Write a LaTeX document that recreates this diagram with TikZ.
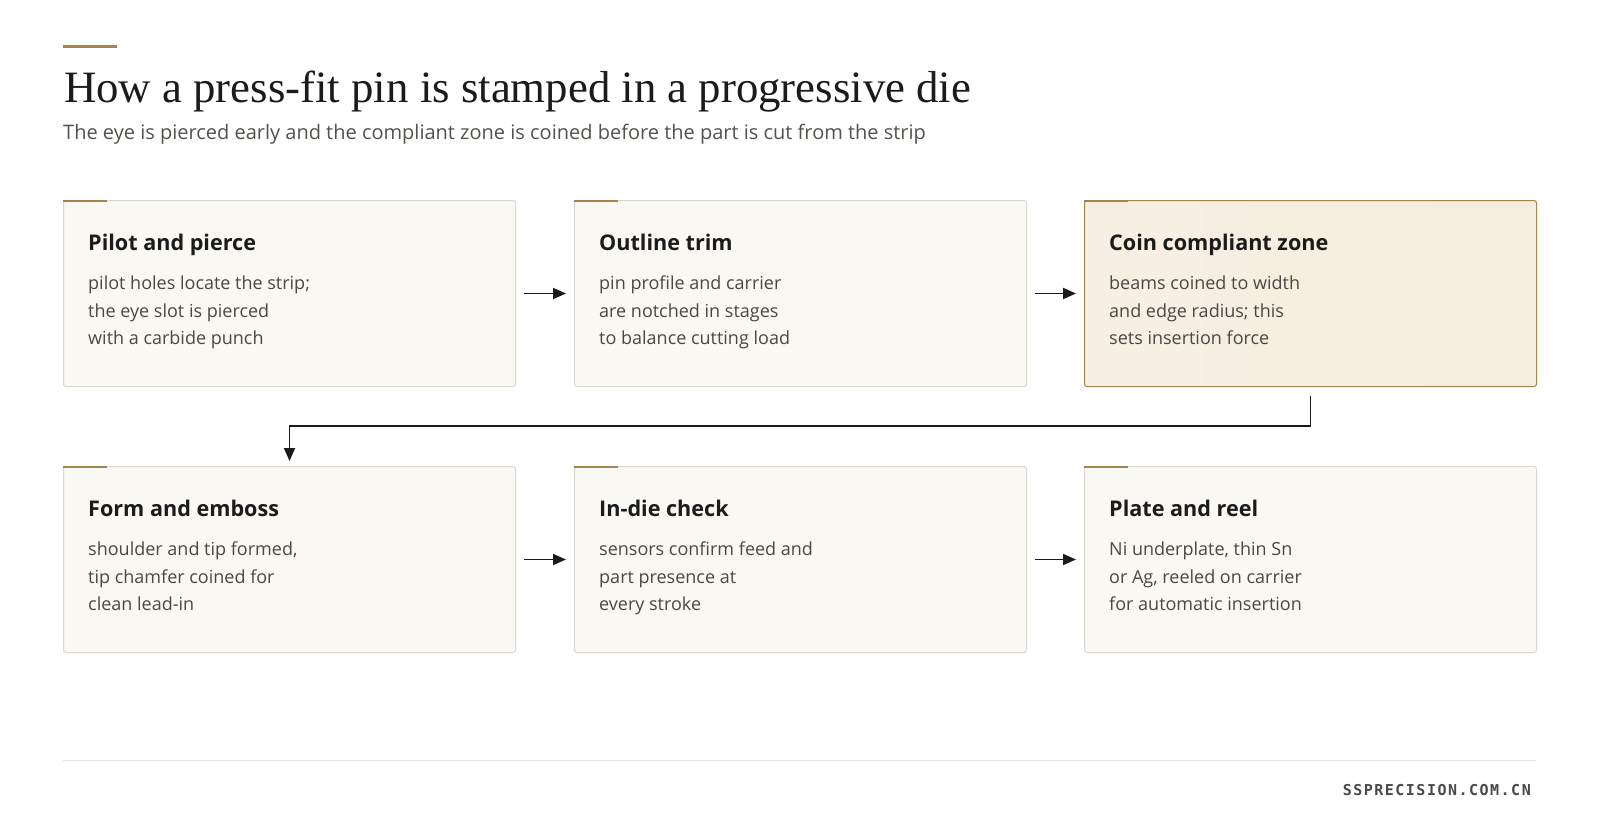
\documentclass[tikz,border=0pt]{standalone}
\usepackage{fontspec}
\setmainfont{Open Sans}
\newfontfamily\headfont{Liberation Serif}
\newfontfamily\sitefont[LetterSpace=10]{DejaVu Sans Mono}
\usetikzlibrary{calc,arrows.meta}

\definecolor{ink}{HTML}{1B1B1B}
\definecolor{bodytext}{HTML}{4A4845}
\definecolor{subtext}{HTML}{55524E}
\definecolor{accent}{HTML}{A4844F}
\definecolor{cardfill}{HTML}{FAF8F3}
\definecolor{cardline}{HTML}{DAD7D0}
\definecolor{hifill}{HTML}{F4EEDE}
\definecolor{rulecol}{HTML}{E6E4E0}

\tikzset{
  card/.style={draw=cardline, fill=cardfill, line width=1pt, rounded corners=2.5pt,
    minimum width=452pt, minimum height=186pt, anchor=north west, inner sep=0pt},
  hicard/.style={card, draw=accent, left color=hifill!88!white, right color=hifill},
  cardtitle/.style={anchor=base west, inner sep=0pt, text=ink,
    font=\bfseries\fontsize{21.6}{26}\selectfont},
  cardbody/.style={anchor=north west, inner sep=0pt, align=left, text=bodytext,
    font=\fontsize{18}{27.5}\selectfont},
  flow/.style={-{Triangle[length=13pt,width=11pt]}, line width=1.8pt, draw=ink},
}

\begin{document}
\begin{tikzpicture}[x=1pt,y=-1pt]
	\fill[white] (0,0) rectangle (1600,827);
	\useasboundingbox (0,0) rectangle (1600,827);
	% heading
	\draw[accent, line width=3pt] (63,46) -- (117,46);
	\node[anchor=base west, inner sep=0pt, text=ink, font=\headfont\fontsize{44.8}{50}\selectfont] (title) at (64,102) {How a press-fit pin is stamped in a progressive die};
	\node[anchor=base west, inner sep=0pt, text=subtext, font=\fontsize{20}{25}\selectfont] (subtitle) at (63,139) {The eye is pierced early and the compliant zone is coined before the part is cut from the strip};
	% stations
	\foreach \n/\x/\y/\s/\t/\b in {
		pilot/63/200/card/{Pilot and pierce}/{pilot holes locate the strip;\\the eye slot is pierced\\with a carbide punch},
		trim/574/200/card/{Outline trim}/{pin profile and carrier\\are notched in stages\\to balance cutting load},
		coin/1084/200/hicard/{Coin compliant zone}/{beams coined to width\\and edge radius; this\\sets insertion force},
		form/63/466/card/{Form and emboss}/{shoulder and tip formed,\\tip chamfer coined for\\clean lead-in},
		check/574/466/card/{In-die check}/{sensors confirm feed and\\part presence at\\every stroke},
		reel/1084/466/card/{Plate and reel}/{Ni underplate, thin Sn\\or Ag, reeled on carrier\\for automatic insertion}} {
		\node[\s] (\n) at (\x,\y) {};
		\draw[accent, line width=2.5pt] (\x,\y+1) -- (\x+44,\y+1);
		\node[cardtitle] (\n-title) at (\x+25,\y+50) {\t};
		\node[cardbody] (\n-text) at (\x+25,\y+76) {\b};
	}
	% flow
	\draw[flow] ([xshift=8pt]pilot.east) -- ([xshift=-8pt]trim.west);
	\draw[flow] ([xshift=8pt]trim.east) -- ([xshift=-8pt]coin.west);
	\draw[flow] ([yshift=-9pt]coin.south) -- ++(0,30) -| ([yshift=5pt]form.north);
	\draw[flow] ([xshift=8pt]form.east) -- ([xshift=-8pt]check.west);
	\draw[flow] ([xshift=8pt]check.east) -- ([xshift=-8pt]reel.west);
	% footer
	\draw[rulecol, line width=1pt] (63,760) -- (1536,760);
	\node[anchor=base east, inner sep=0pt, text=ink!80, font=\sitefont\bfseries\fontsize{15}{18}\selectfont] (site) at (1531,795) {SSPRECISION.COM.CN};
\end{tikzpicture}
\end{document}
